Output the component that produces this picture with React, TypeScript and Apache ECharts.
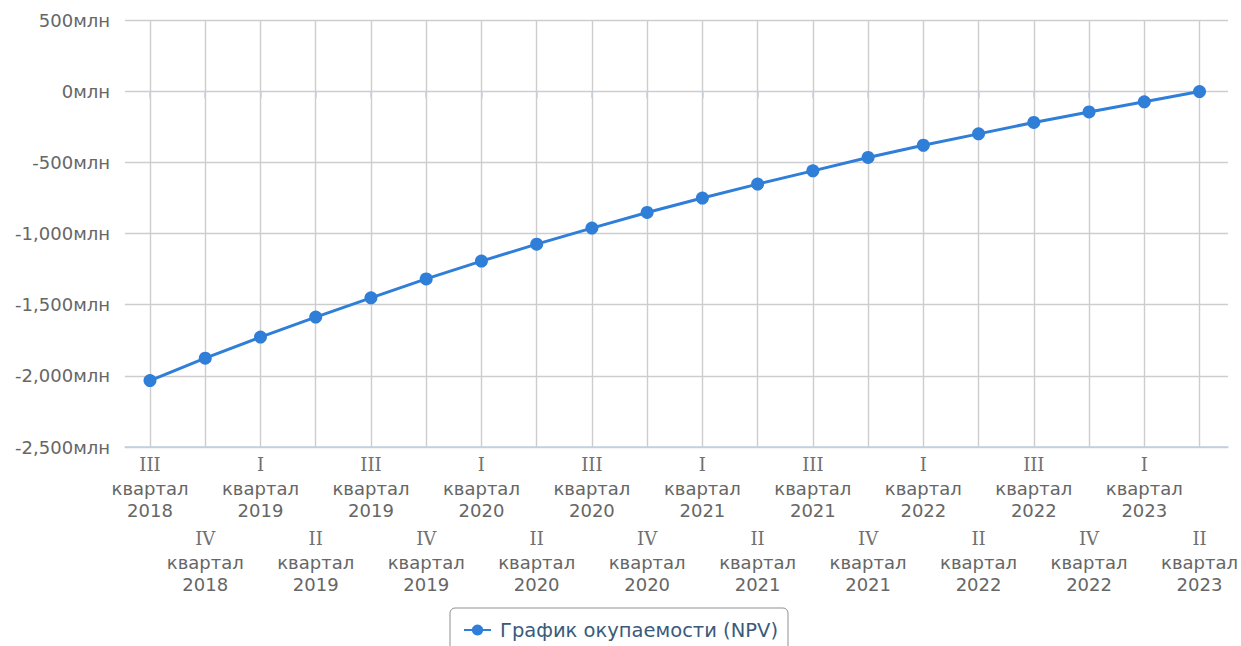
import React, { useEffect, useRef } from "react";
import * as echarts from "echarts";

// Quarter labels: roman numeral, word, year
const quarters = ["III", "IV", "I", "II", "III", "IV", "I", "II", "III", "IV", "I", "II", "III", "IV", "I", "II", "III", "IV", "I", "II"];
const years = ["2018", "2018", "2019", "2019", "2019", "2019", "2020", "2020", "2020", "2020", "2021", "2021", "2021", "2021", "2022", "2022", "2022", "2022", "2023", "2023"];
const categories = quarters.map((q, i) => `${q} квартал ${years[i]}`);

// Cumulative NPV, млн
const npv = [-2033, -1876, -1728, -1587, -1452, -1319, -1194, -1075, -962, -852, -751, -653, -560, -466, -380, -300, -220, -146, -75, -3];

const yTicks = { min: -2500, max: 500, interval: 500 };
const seriesName = "График окупаемости (NPV)";

const LABEL_COLOR = "#666666";
const GRID_COLOR = "#cdcdcd";
const AXIS_COLOR = "#c0d0e0";
const LINE_COLOR = "#2f7ed8";

const fmtMln = (v: number) => {
  const s = Math.abs(v).toString().replace(/\B(?=(\d{3})+(?!\d))/g, ",");
  return `${v < 0 ? "-" : ""}${s}млн`;
};

export default function App() {
  const ref = useRef<HTMLDivElement>(null);

  useEffect(() => {
    if (!ref.current) return;
    const chart = echarts.init(ref.current, null, { renderer: "svg" });
    const top = 20;
    const height = 427;

    chart.setOption({
      animation: false,
      backgroundColor: "#ffffff",
      textStyle: { fontFamily: "DejaVu Sans" },
      grid: [
        // outer grid: horizontal grid lines, y labels, bottom axis line
        { left: 125, right: 13, top, height, containLabel: false },
        // inner grid: categories and the series
        { left: 150, right: 41, top, height, containLabel: false },
      ],
      xAxis: [
        {
          type: "value",
          gridIndex: 0,
          min: 0,
          max: 1,
          axisLine: { show: true, onZero: false, lineStyle: { color: AXIS_COLOR, width: 1.5 } },
          axisTick: { show: false },
          axisLabel: { show: false },
          splitLine: { show: false },
        },
        {
          type: "category",
          gridIndex: 1,
          data: categories,
          boundaryGap: false,
          axisLine: { show: false },
          axisTick: {
            show: true,
            interval: 0,
            length: 7,
            lineStyle: { color: AXIS_COLOR, width: 1.5 },
          },
          splitLine: { show: true, interval: 0, lineStyle: { color: GRID_COLOR, width: 1.4 } },
          axisLabel: {
            interval: 0,
            margin: 4,
            hideOverlap: false,
            formatter: (value: string, idx: number) => {
              const [q, w, y] = value.split(" ");
              const body = `{r|${q}}\n{t|${w}}\n{t|${y}}`;
              return idx % 2 === 1 ? `{g| }\n${body}` : body;
            },
            rich: {
              g: { lineHeight: 74, fontSize: 10 },
              r: { fontFamily: "DejaVu Serif", fontSize: 18, lineHeight: 26, color: "#707070" },
              t: { fontFamily: "DejaVu Sans", fontSize: 18, lineHeight: 22, color: LABEL_COLOR },
            },
          },
        },
      ],
      yAxis: [
        {
          type: "value",
          gridIndex: 0,
          ...yTicks,
          axisLine: { show: false },
          axisTick: { show: false },
          splitLine: { show: true, lineStyle: { color: GRID_COLOR, width: 1.4 } },
          axisLabel: {
            margin: 15,
            color: LABEL_COLOR,
            fontSize: 18,
            fontFamily: "DejaVu Sans",
            formatter: (v: number) => fmtMln(v),
          },
        },
        {
          type: "value",
          gridIndex: 1,
          ...yTicks,
          show: false,
          splitLine: { show: false },
        },
      ],
      legend: {
        show: true,
        data: [seriesName],
        left: "center",
        top: 608,
        orient: "horizontal",
        borderColor: "#909090",
        borderWidth: 1,
        borderRadius: 5,
        padding: [12, 10, 14, 13],
        itemWidth: 27,
        itemHeight: 14,
        textStyle: { color: "#3b5a7a", fontSize: 19.5, fontFamily: "DejaVu Sans", padding: [0, 0, 0, 4] },
      },
      series: [
        {
          name: seriesName,
          type: "line",
          xAxisIndex: 1,
          yAxisIndex: 1,
          data: npv,
          symbol: "circle",
          symbolSize: 13,
          showSymbol: true,
          lineStyle: { color: LINE_COLOR, width: 3 },
          itemStyle: { color: LINE_COLOR },
        },
      ],
    });

    return () => chart.dispose();
  }, []);

  return (
    <div
      ref={ref}
      style={{ position: "absolute", left: 0, top: 0, width: 1241, height: 646 }}
    />
  );
}
